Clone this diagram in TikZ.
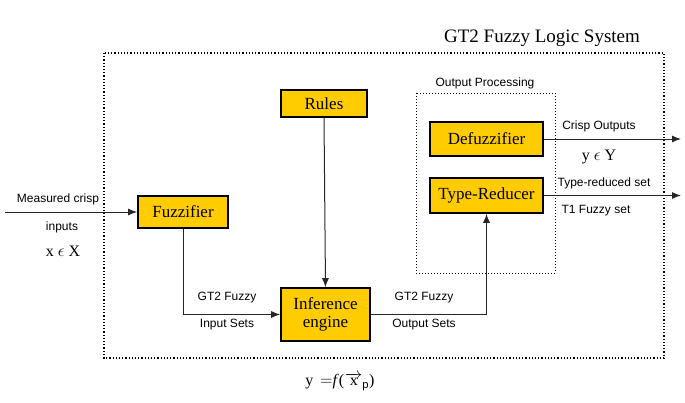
\documentclass[tikz,border=0pt]{standalone}
\usepackage{fontspec}
\setmainfont{Liberation Serif}
\setsansfont{Liberation Sans}
\usepackage{tikz}
\usetikzlibrary{positioning}
\usetikzlibrary{arrows.meta}
\definecolor{gold}{RGB}{255,204,0}

\begin{document}
\begin{tikzpicture}[>={Latex[length=9pt,width=7pt]}, x=1pt, y=-1pt,
  block/.style={draw, line width=1.6pt, fill=gold, inner sep=0pt,
    font=\fontsize{17}{18}\selectfont, align=center},
  lbl/.style={font=\sffamily\fontsize{12}{13}\selectfont, inner sep=1pt},
  link/.style={->, line width=1pt, black!85}]

\useasboundingbox (0,0) rectangle (685,402);

% frames
\draw[dotted, line width=1.2pt] (104,53) rectangle (664,358);
\draw[dotted, line width=1pt] (416,93) rectangle (555,273);
\node (title) at (542,38) {\fontsize{19}{20}\selectfont GT2 Fuzzy Logic System};
\node[lbl] (outproc) at (485,83) {Output Processing};

% blocks
\node[block, minimum width=86pt, minimum height=27pt] (rules) at (324,103.5) {Rules};
\node[block, minimum width=90pt, minimum height=32pt] (fuzz) at (183,212) {Fuzzifier};
\node[block, minimum width=89pt, minimum height=53pt] (infer) at (325.5,314.5) {Inference\\engine};
\node[block, minimum width=113pt, minimum height=34pt] (defuzz) at (486.5,139) {Defuzzifier};
\node[block, minimum width=113pt, minimum height=35pt] (typered) at (486.5,195.5) {Type-Reducer};

% free ends
\coordinate (inp) at (5,212);
\coordinate (crisp) at (681,139);
\coordinate (t1) at (681,195.5);

% connectors
\draw[link] (inp) -- (fuzz.west);
\draw[link] (fuzz.south) |- (infer.west);
\draw[link] (rules.south) -- (infer.north);
\draw[link] (infer.east) -| (typered.south);
\draw[link] (defuzz.east) -- (crisp);
\draw[link] (typered.east) -- (t1);

% labels
\node[lbl] (meas) at (58,199) {Measured crisp};
\node[lbl] (inputs) at (62,227) {inputs};
\node (xin) at (63,251) {\fontsize{16}{17}\selectfont x $\epsilon$ X};
\node[lbl] (gtin) at (227,298) {GT2 Fuzzy};
\node[lbl] (insets) at (227,325) {Input Sets};
\node[lbl] (gtout) at (424,298) {GT2 Fuzzy};
\node[lbl] (outsets) at (424,325) {Output Sets};
\node[lbl] (crispl) at (599,126) {Crisp Outputs};
\node (yout) at (599,157) {\fontsize{16}{17}\selectfont y $\epsilon$ Y};
\node[lbl] (trset) at (604,183) {Type-reduced set};
\node[lbl] (t1set) at (596,211) {T1 Fuzzy set};
\node (mapping) at (340,382) {\fontsize{16}{17}\selectfont y\, $=$\textit{f}($\mkern1mu\overrightarrow{\mathrm{x}}_{\mathsf{p}}$)};

\end{tikzpicture}
\end{document}
